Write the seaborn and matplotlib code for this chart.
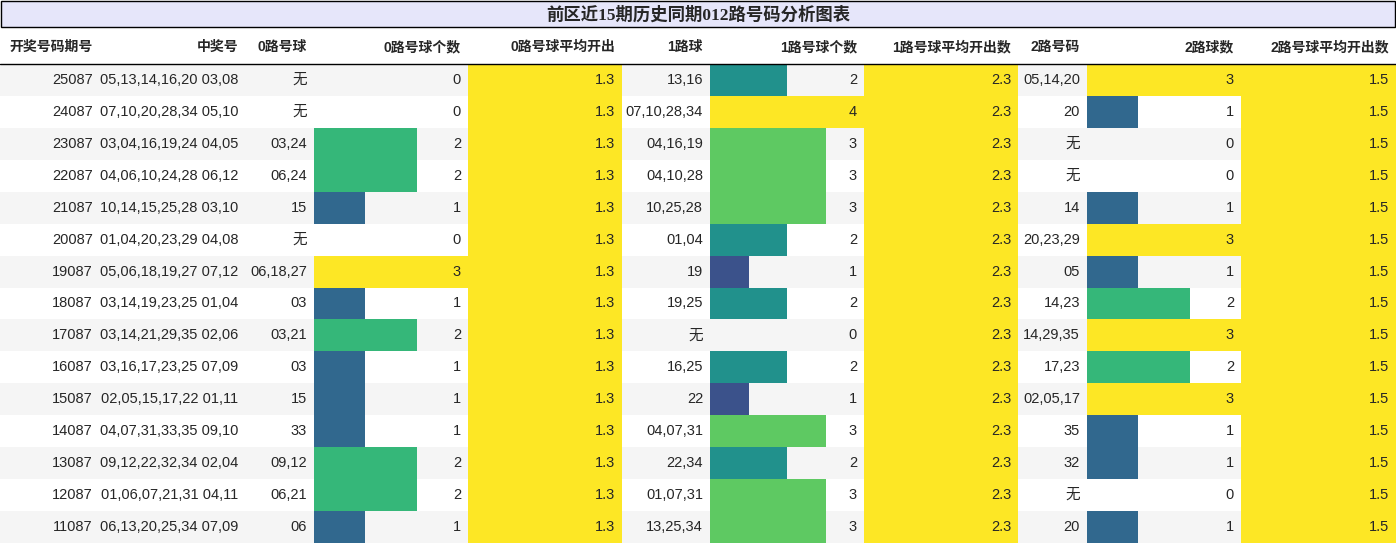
import matplotlib
matplotlib.use('Agg')
import matplotlib.pyplot as plt
import seaborn as sns

sns.set_theme(style='white')
plt.rcParams['font.family'] = ['Liberation Sans', 'Noto Sans CJK SC']

title = '前区近15期历史同期012路号码分析图表'
headers = ['开奖号码期号', '中奖号', '0路号球', '0路号球个数', '0路号球平均开出',
           '1路球', '1路号球个数', '1路号球平均开出数', '2路号码', '2路球数', '2路号球平均开出数']

issues = ['25087', '24087', '23087', '22087', '21087', '20087', '19087', '18087',
          '17087', '16087', '15087', '14087', '13087', '12087', '11087']
winning = ['05,13,14,16,20 03,08', '07,10,20,28,34 05,10', '03,04,16,19,24 04,05',
           '04,06,10,24,28 06,12', '10,14,15,25,28 03,10', '01,04,20,23,29 04,08',
           '05,06,18,19,27 07,12', '03,14,19,23,25 01,04', '03,14,21,29,35 02,06',
           '03,16,17,23,25 07,09', '02,05,15,17,22 01,11', '04,07,31,33,35 09,10',
           '09,12,22,32,34 02,04', '01,06,07,21,31 04,11', '06,13,20,25,34 07,09']
road0 = ['无', '无', '03,24', '06,24', '15', '无', '06,18,27', '03', '03,21', '03',
         '15', '33', '09,12', '06,21', '06']
road0_count = [0, 0, 2, 2, 1, 0, 3, 1, 2, 1, 1, 1, 2, 2, 1]
road0_avg = [1.3] * 15
road1 = ['13,16', '07,10,28,34', '04,16,19', '04,10,28', '10,25,28', '01,04', '19',
         '19,25', '无', '16,25', '22', '04,07,31', '22,34', '01,07,31', '13,25,34']
road1_count = [2, 4, 3, 3, 3, 2, 1, 2, 0, 2, 1, 3, 2, 3, 3]
road1_avg = [2.3] * 15
road2 = ['05,14,20', '20', '无', '无', '14', '20,23,29', '05', '14,23', '14,29,35',
         '17,23', '02,05,17', '35', '32', '无', '20']
road2_count = [3, 1, 0, 0, 1, 3, 1, 2, 3, 2, 3, 1, 1, 0, 1]
road2_avg = [1.5] * 15

columns = [issues, winning, road0, road0_count, road0_avg, road1, road1_count,
           road1_avg, road2, road2_count, road2_avg]
bar_cols = {3, 4, 6, 7, 9, 10}
edges = [0, 100, 245, 314, 468, 622, 710, 864, 1018, 1087, 1241, 1396]

cmap = sns.color_palette('viridis', as_cmap=True)
W, H = 1396, 543
fig = plt.figure(figsize=(W / 100, H / 100), dpi=100)
ax = fig.add_axes([0, 0, 1, 1])
ax.set_xlim(0, W)
ax.set_ylim(H, 0)
ax.axis('off')

# title bar
ax.add_patch(plt.Rectangle((1, 1), W - 2, 26, facecolor='#e6e6fa', edgecolor='black', lw=1))
ax.text(W / 2, 15, title, ha='center', va='center', fontsize=12.5, fontweight='bold',
        family=['Liberation Serif', 'Noto Sans CJK SC'])

# header
for j, h in enumerate(headers):
    ax.text(edges[j + 1] - 7, 47, h, ha='right', va='center', fontsize=10, fontweight='bold')
ax.plot([0, W], [63.5, 63.5], color='black', lw=1)

top = 64
rh = (H - top) / len(issues)
for i in range(len(issues)):
    y0 = top + i * rh
    if i % 2 == 0:
        ax.add_patch(plt.Rectangle((0, y0), W, rh, facecolor='#f5f5f5', lw=0))
    for j, col in enumerate(columns):
        v = col[i]
        if j in bar_cols:
            vmax = max(col)
            w = (edges[j + 1] - edges[j]) * v / vmax
            if v > 0:
                ax.barh(y0 + rh / 2, w, height=rh, left=edges[j], color=cmap(v / vmax), lw=0)
        ax.text(edges[j + 1] - 7, y0 + rh / 2, str(v), ha='right', va='center', fontsize=10.5)

fig.savefig('out.png', dpi=100)
